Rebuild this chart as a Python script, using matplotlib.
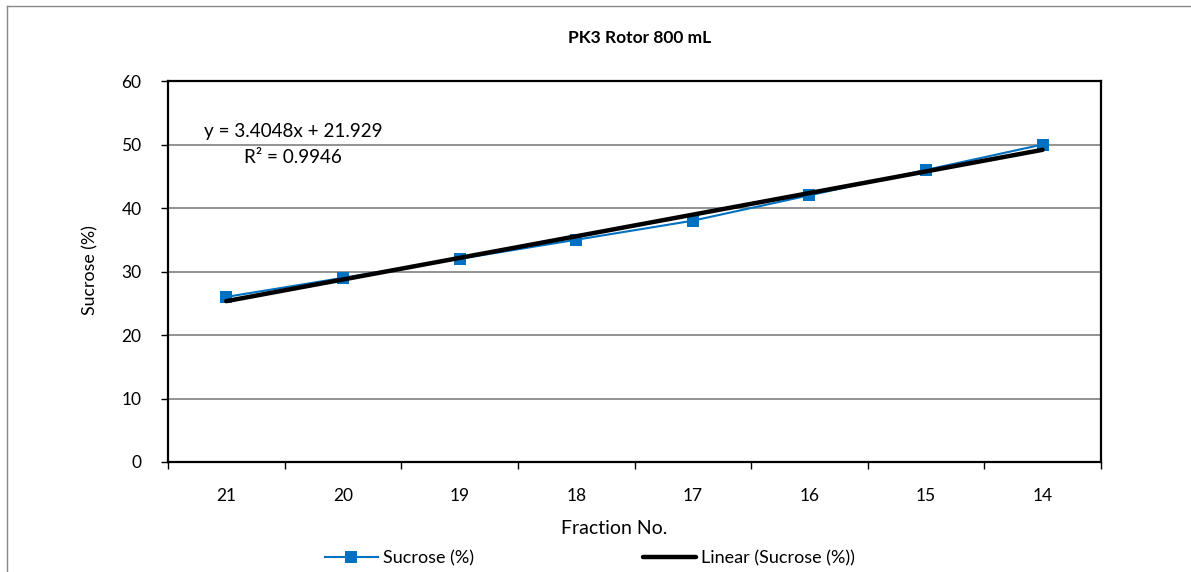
import numpy as np
import matplotlib
matplotlib.use("Agg")
import matplotlib.pyplot as plt
from matplotlib.lines import Line2D

# data
fractions = ["21", "20", "19", "18", "17", "16", "15", "14"]
sucrose = [26, 29, 32, 35, 38, 42, 46, 50]

plt.rcParams["font.family"] = ["Lato", "DejaVu Sans"]

x = np.arange(1, len(fractions) + 1)
slope, intercept = np.polyfit(x, sucrose, 1)
trend = slope * x + intercept
r2 = np.corrcoef(x, sucrose)[0, 1] ** 2

W, H = 1191, 572
fig = plt.figure(figsize=(W / 100, H / 100), dpi=100)
ax = fig.add_axes([168 / W, 1 - 462 / H, (1101 - 168) / W, (462 - 81) / H])

blue = "#0070C0"
ax.plot(x, sucrose, color=blue, linewidth=1.5, marker="s", markersize=9,
        markeredgewidth=0, zorder=3)
ax.plot(x, trend, color="black", linewidth=3.2, solid_capstyle="round", zorder=4)

ax.set_xlim(0.5, len(fractions) + 0.5)
ax.set_ylim(0, 60)
ax.set_yticks(np.arange(0, 61, 10))
ax.set_xticks(np.arange(0.5, len(fractions) + 1, 1))
ax.set_xticklabels([])
ax.set_xticks(x, minor=True)
ax.set_xticklabels(fractions, minor=True)
ax.tick_params(axis="x", which="minor", length=0, pad=19, labelsize=12.5)
ax.tick_params(axis="x", which="major", length=5, width=1, direction="out")
ax.tick_params(axis="y", length=5, width=1, direction="out", pad=14, labelsize=12.5)

for y in range(10, 60, 10):
    ax.axhline(y, color="#808080", linewidth=1.2, zorder=1)

for s in ax.spines.values():
    s.set_linewidth(1.6)
    s.set_color("black")

# axis titles (Excel put the x title a bit left of centre)
fig.text(90 / W, 1 - 270 / H, "Sucrose (%)", rotation=90, ha="center", va="center",
         fontsize=12.8)
fig.text(614 / W, 1 - 528 / H, "Fraction No.", ha="center", va="center", fontsize=14)
fig.text(640 / W, 1 - 38 / H, "PK3 Rotor 800 mL", ha="center", va="center",
         fontsize=12.5, fontweight="bold")

ax.text(1.572, 51.97, f"y = {slope:.4f}x + {intercept:.3f}", ha="center", va="center",
        fontsize=13.6)
ax.text(1.572, 48.0, f"R² = {r2:.4f}", ha="center", va="center", fontsize=13.6)

handles = [
    Line2D([], [], color=blue, linewidth=1.5, marker="s", markersize=9, markeredgewidth=0),
    Line2D([], [], color="black", linewidth=3.2, solid_capstyle="round"),
]
fig.legend(handles, ["Sucrose (%)", "Linear (Sucrose (%))"], ncol=2, frameon=False,
           loc="center", bbox_to_anchor=(590 / W, 1 - 558 / H), fontsize=13,
           handlelength=2.9, handletextpad=0.28, columnspacing=9.4,
           borderpad=0, borderaxespad=0)

# outer chart border (left and top visible)
fig.add_artist(Line2D([7 / W, 7 / W], [0, 1 - 6 / H], color="#888888",
                      linewidth=1, transform=fig.transFigure))
fig.add_artist(Line2D([7 / W, 1], [1 - 6 / H, 1 - 6 / H], color="#888888",
                      linewidth=1, transform=fig.transFigure))

fig.savefig("out.png", dpi=100)
